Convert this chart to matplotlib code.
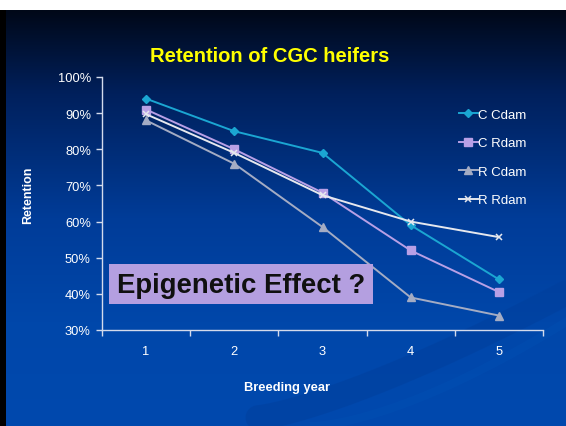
import numpy as np
import matplotlib
matplotlib.use("Agg")
import matplotlib.pyplot as plt
from matplotlib.colors import LinearSegmentedColormap
from matplotlib.patches import Rectangle

years = [1, 2, 3, 4, 5]
year_labels = ["1", "2", "3", "4", "5"]
c_cdam = [94, 85, 79, 59, 44]
c_rdam = [91, 80, 68, 52, 40.5]
r_cdam = [88, 76, 58.5, 39, 34]
r_rdam = [89.7, 79, 67.3, 60, 55.7]
yticks = [30, 40, 50, 60, 70, 80, 90, 100]

W, H = 566, 427
fig = plt.figure(figsize=(W / 100, H / 100), dpi=100)
fig.patch.set_facecolor("white")

# slide background
bg_black = fig.add_axes([0, 0, 1, (H - 11) / H])
bg_black.set_facecolor("black")
bg_black.set_xticks([]); bg_black.set_yticks([])
for s in bg_black.spines.values():
    s.set_visible(False)

bg = fig.add_axes([6 / W, 0, 1 - 6 / W, (H - 11) / H])
cmap = LinearSegmentedColormap.from_list(
    "slide", [(0, "#000818"), (0.2, "#00205c"), (0.5, "#003c98"), (0.75, "#0047aa"), (1, "#0049ae")])
grad = np.linspace(0, 1, 256).reshape(-1, 1)
bg.imshow(grad, aspect="auto", cmap=cmap, extent=[0, 1, 0, 1], origin="upper")
t = np.linspace(0, 1, 200)
bg.plot(0.45 + 0.55 * t, 0.02 + 0.30 * t ** 1.3, color="#003f9c", lw=18, alpha=0.5, solid_capstyle="round")
bg.plot(0.55 + 0.45 * t, 0.0 + 0.25 * t ** 1.5, color="#0050b4", lw=6, alpha=0.4)
bg.set_xlim(0, 1); bg.set_ylim(0, 1)
bg.axis("off")

ax = fig.add_axes([102 / W, 1 - 331 / H, (543 - 102) / W, (331 - 78) / H])
ax.set_facecolor("none")

ax.plot(years, c_cdam, color="#1ba6d2", marker="D", ms=4, lw=1.4, label="C Cdam")
ax.plot(years, c_rdam, color="#b8a0e6", marker="s", ms=5.5, lw=1.4, label="C Rdam")
ax.plot(years, r_cdam, color="#a4acc4", marker="^", ms=5.5, lw=1.4, label="R Cdam")
ax.plot(years, r_rdam, color="#e6e8ee", marker="x", ms=5, mew=1.1, lw=1.4, label="R Rdam")

ax.set_xlim(0.5, 5.5)
ax.set_ylim(30, 100)
ax.set_yticks(yticks)
ax.set_yticklabels([f"{v}%" for v in yticks])
ax.set_xticks(years)
ax.set_xticklabels(year_labels)
ax.set_xticks(np.arange(0.5, 5.6, 1), minor=True)
ax.tick_params(axis="x", which="major", length=0, pad=11, colors="white", labelsize=9.3)
ax.tick_params(axis="x", which="minor", length=4, direction="out", color="#d4dbec", width=1)
ax.tick_params(axis="y", which="major", length=4, direction="out", color="#d4dbec", width=1,
               colors="white", labelsize=9.3, pad=4)
for side in ["top", "right"]:
    ax.spines[side].set_visible(False)
for side in ["left", "bottom"]:
    ax.spines[side].set_color("#d4dbec")
    ax.spines[side].set_linewidth(1)

leg = ax.legend(loc="upper left", bbox_to_anchor=(0.798, 0.896), frameon=False, handlelength=1.4,
                handletextpad=0.0, labelspacing=1.23, fontsize=9.5, borderaxespad=0)
for txt in leg.get_texts():
    txt.set_color("white")
    txt.set_family("Liberation Sans")

fig.text(270 / W, 1 - 56 / H, "Retention of CGC heifers", color="#ffff00", fontsize=14.5,
         fontweight="bold", ha="center", va="center", family="Liberation Sans")
fig.text(28 / W, 1 - 195 / H, "Retention", color="white", fontsize=9,
         fontweight="bold", rotation=90, ha="center", va="center", family="Liberation Sans")
fig.text(287 / W, 1 - 388 / H, "Breeding year", color="white", fontsize=9.3, fontweight="bold",
         ha="center", va="center", family="Liberation Sans")

fig.patches.append(Rectangle((109 / W, 1 - 305 / H), (373 - 109) / W, 40 / H, transform=fig.transFigure,
                             facecolor="#b49fe0", edgecolor="none", zorder=5))
fig.text(241 / W, 1 - 286 / H, "Epigenetic Effect ?", color="#101010", fontsize=19.8,
         fontweight="bold", ha="center", va="center", family="Liberation Sans", zorder=6)

for lab in ax.get_xticklabels() + ax.get_yticklabels():
    lab.set_family("Liberation Sans")

fig.savefig("out.png", dpi=100, facecolor=fig.get_facecolor())
